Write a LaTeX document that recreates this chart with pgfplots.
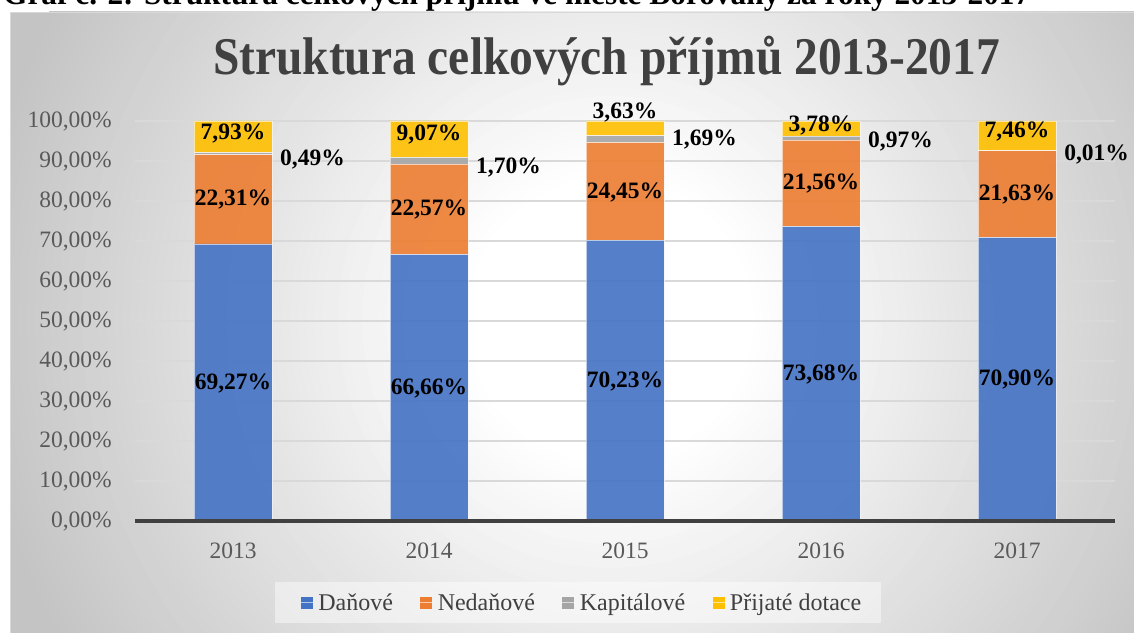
\documentclass[border=0pt]{standalone}
\usepackage{fontspec}
\setmainfont{Liberation Serif}
\usepackage{graphicx}
\usepackage{pgfplots}
\pgfplotsset{compat=1.18}

\definecolor{cDan}{HTML}{4472C4}
\definecolor{cNed}{HTML}{ED7D31}
\definecolor{cKap}{HTML}{A5A5A5}
\definecolor{cDot}{HTML}{FFC000}
\definecolor{txt}{HTML}{404040}
\definecolor{tickc}{HTML}{595959}
\definecolor{gridc}{HTML}{D9D9D9}
\definecolor{bgout}{HTML}{C4C4C4}

\begin{document}
\begin{tikzpicture}
\useasboundingbox (0,0) rectangle (1134bp,633bp);
\fill[white] (0,0) rectangle (1134bp,633bp);
% chart area background (radial gradient, built from rings)
\begin{scope}
  \clip (10bp,0) rectangle (1134bp,621bp);
  \fill[bgout] (10bp,0) rectangle (1134bp,621bp);
  \foreach \r in {640,632,...,140} {
    \pgfmathtruncatemacro\f{(\r-140)/5}
    \fill[bgout!\f!white] (610bp,313bp) circle (\r bp);
  }
\end{scope}
\draw[gridc, line width=1bp] (10.5bp,0) -- (10.5bp,620.5bp) -- (1134bp,620.5bp);
% legend background
\fill[white, opacity=0.45] (275bp,10bp) rectangle (881bp,51bp);

% caption (cut by the page edge) and title
\node[anchor=base west, inner sep=0pt] at (3bp,628bp)
  {\resizebox{1027bp}{\height}{\fontsize{32bp}{36bp}\selectfont\bfseries Graf č. 2: Struktura celkových příjmů ve městě Borovany za roky 2013-2017}};
\node[anchor=base, inner sep=0pt, text=txt] at (606.5bp,558bp)
  {\resizebox{787bp}{\height}{\fontsize{53bp}{60bp}\selectfont\bfseries Struktura celkových příjmů 2013-2017}};

\begin{axis}[
  at={(135bp,112bp)}, anchor=south west,
  scale only axis, width=980bp, height=400bp,
  ybar stacked, bar width=78bp,
  xmin=-0.5, xmax=4.5, ymin=0, ymax=100,
  xtick={0,1,2,3,4}, xticklabels={2013,2014,2015,2016,2017},
  ytick={0,10,...,100},
  /pgf/number format/assume math mode=true,
  yticklabel={\pgfmathprintnumber[fixed,fixed zerofill,precision=2,use comma]{\tick}\%},
  axis line style={draw=none},
  major tick length=0pt,
  ymajorgrids, major grid style={gridc, line width=1.5bp},
  tick label style={font=\fontsize{23.5bp}{28bp}\selectfont, text=tickc, inner sep=0pt},
  yticklabel style={xshift=-23bp},
  xticklabel style={yshift=-22bp},
  every axis plot/.append style={draw=white, draw opacity=0.6, line width=0.8bp, fill opacity=0.9},
  legend columns=4,
  legend style={at={(0.456,-0.204)}, anchor=center, draw=none, fill=none,
    font=\fontsize{24bp}{28bp}\selectfont, text=txt,
    nodes={inner sep=2bp},
    /tikz/every even column/.append style={column sep=25bp}},
  legend image code/.code={\fill[#1, draw=none, fill opacity=1] (0bp,-6bp) rectangle (12bp,6bp);
    \path (0bp,0bp) -- (15bp,0bp);},
]
\addplot[fill=cDan] coordinates {(0,69.27) (1,66.66) (2,70.23) (3,73.68) (4,70.90)};
\addplot[fill=cNed] coordinates {(0,22.31) (1,22.57) (2,24.45) (3,21.56) (4,21.63)};
\addplot[fill=cKap] coordinates {(0,0.49) (1,1.70) (2,1.69) (3,0.97) (4,0.01)};
\addplot[fill=cDot] coordinates {(0,7.93) (1,9.07) (2,3.63) (3,3.78) (4,7.46)};
\legend{Daňové,Nedaňové,Kapitálové,Přijaté dotace}
\end{axis}

% overlay axis: x axis line and data labels
\begin{axis}[
  at={(135bp,112bp)}, anchor=south west,
  scale only axis, width=980bp, height=400bp,
  xmin=-0.5, xmax=4.5, ymin=0, ymax=100,
  axis x line*=bottom, axis y line=none,
  xtick=\empty, ytick=\empty,
  x axis line style={-, draw=txt, line width=3.5bp},
  clip=false,
  /pgf/number format/assume math mode=true,
  point meta=explicit,
  nodes near coords={\pgfmathprintnumber[fixed,fixed zerofill,precision=2,use comma]{\pgfplotspointmeta}\%},
  every node near coord/.append style={font=\fontsize{23.5bp}{28bp}\selectfont\bfseries, text=black, anchor=center, inner sep=0pt},
]
% Daňové
\addplot[only marks, mark=*, mark size=0pt, mark options={draw=none, fill=none}] table[meta=v] {
x y v
0 34.4 69.27
1 33.1 66.66
2 34.9 70.23
3 36.6 73.68
4 35.3 70.90
};
% Nedaňové
\addplot[only marks, mark=*, mark size=0pt, mark options={draw=none, fill=none}] table[meta=v] {
x y v
0 80.3 22.31
1 77.9 22.57
2 82.2 24.45
3 84.3 21.56
4 81.6 21.63
};
% Přijaté dotace
\addplot[only marks, mark=*, mark size=0pt, mark options={draw=none, fill=none}] table[meta=v] {
x y v
0 96.75 7.93
1 96.5 9.07
2 102.2 3.63
3 98.75 3.78
4 97.25 7.46
};
% Kapitálové (right of the bar)
\addplot[only marks, mark=*, mark size=0pt, mark options={draw=none, fill=none},
  every node near coord/.append style={anchor=west}] table[meta=v] {
x y v
0.24 90.25 0.49
1.24 88.25 1.70
2.24 95.25 1.69
3.24 94.75 0.97
4.24 91.5 0.01
};
\end{axis}
\end{tikzpicture}
\end{document}
